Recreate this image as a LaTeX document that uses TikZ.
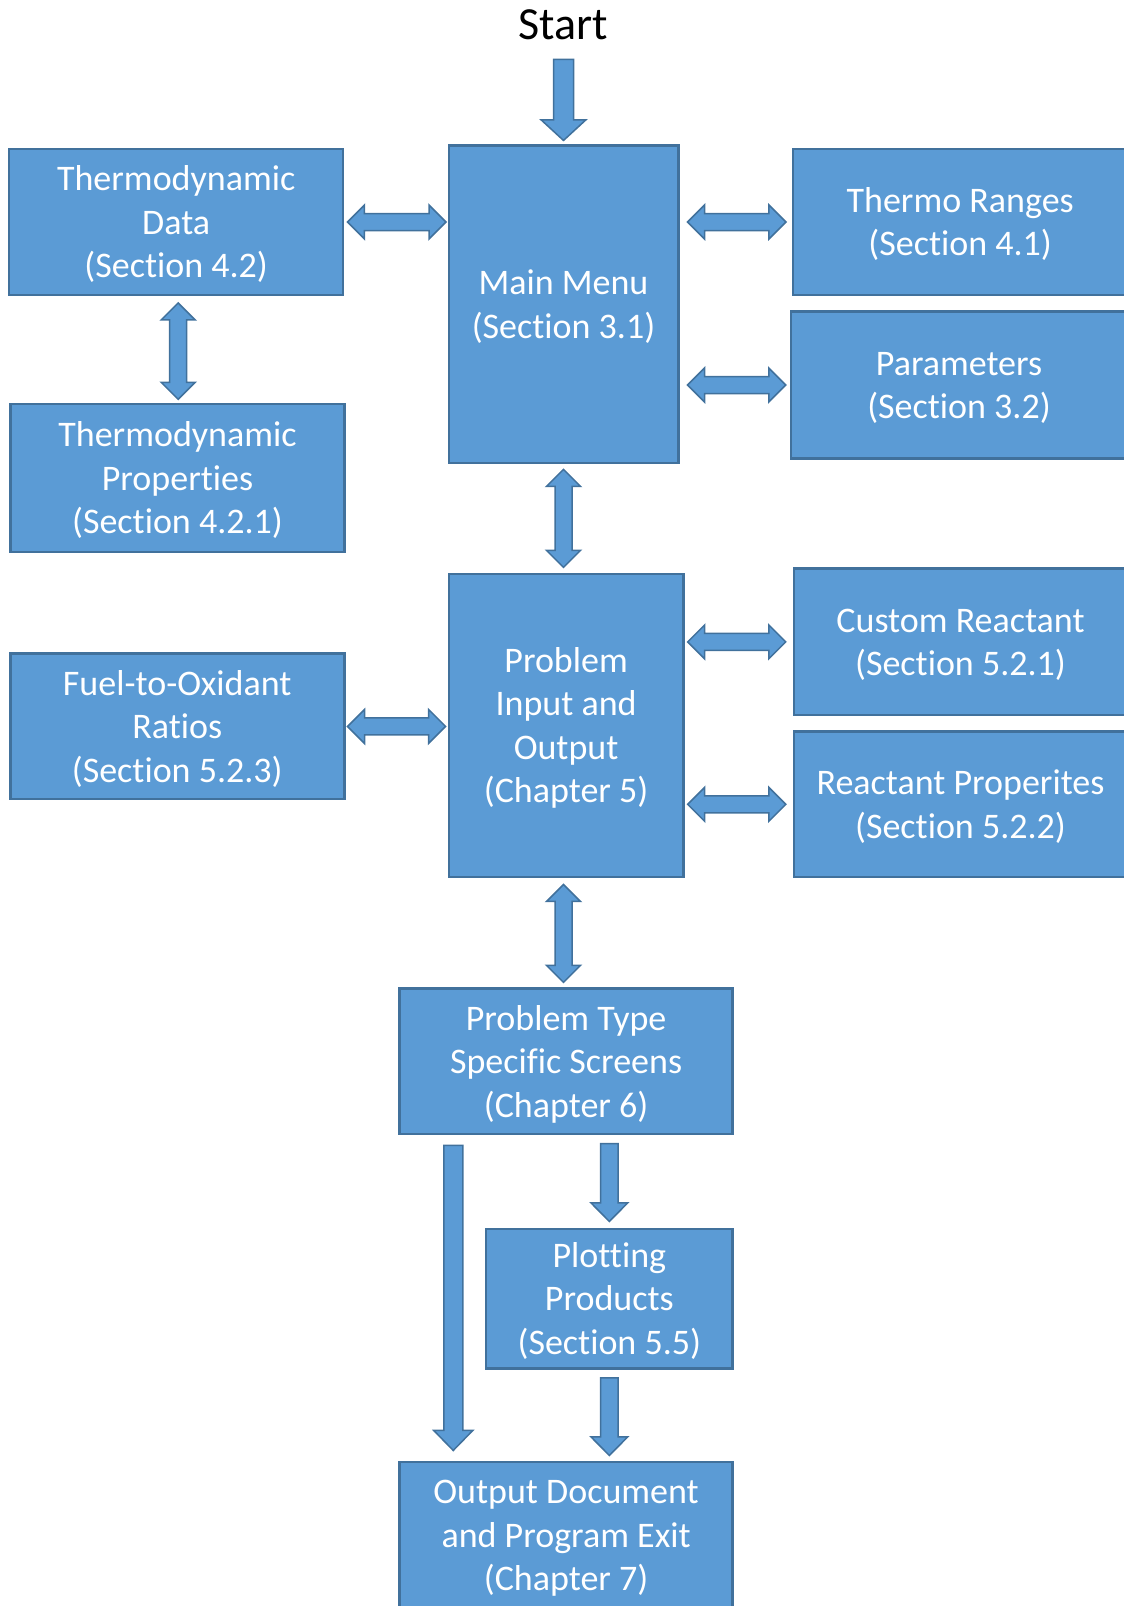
\documentclass[tikz,border=0pt]{standalone}
\usepackage{fontspec}
\setmainfont{Carlito}[RawFeature={-liga;-clig;-calt;-dlig}]
\usetikzlibrary{calc}
\definecolor{boxfill}{HTML}{5B9BD5}
\definecolor{boxline}{HTML}{41719C}
\def\dhl{17pt}\def\dhh{17pt}\def\dsh{8.5pt}
\newcommand\boxtext[1]{\raisebox{-3.5pt}[\height][\depth]{\begin{tabular}{@{}c@{}}#1\end{tabular}}}
\begin{document}
\begin{tikzpicture}[x=1pt,y=-1pt,
  box/.style={draw=boxline, fill=boxfill, line width=2.5pt, text=white,
    inner sep=0pt, font=\fontsize{36}{43.5}\selectfont},
  blockarrow/.style={draw=boxline, fill=boxfill, line width=1.5pt, line join=miter},
  hdbl/.style={blockarrow, to path={let \p1=(\tikztostart), \p2=(\tikztotarget) in
    (\x1,\y1) -- (\x1+\dhl,\y1+\dhh) -- (\x1+\dhl,\y1+\dsh) -- (\x2-\dhl,\y1+\dsh) -- (\x2-\dhl,\y1+\dhh)
    -- (\x2,\y1) -- (\x2-\dhl,\y1-\dhh) -- (\x2-\dhl,\y1-\dsh) -- (\x1+\dhl,\y1-\dsh) -- (\x1+\dhl,\y1-\dhh) -- cycle}},
  vdbl/.style={blockarrow, to path={let \p1=(\tikztostart), \p2=(\tikztotarget) in
    (\x1,\y1) -- (\x1+\dhh,\y1-\dhl) -- (\x1+\dsh,\y1-\dhl) -- (\x1+\dsh,\y2+\dhl) -- (\x1+\dhh,\y2+\dhl)
    -- (\x1,\y2) -- (\x1-\dhh,\y2+\dhl) -- (\x1-\dsh,\y2+\dhl) -- (\x1-\dsh,\y1-\dhl) -- (\x1-\dhh,\y1-\dhl) -- cycle}},
  vdown/.style n args={3}{blockarrow, to path={let \p1=(\tikztostart), \p2=(\tikztotarget) in
    (\x1-#1pt,\y1) -- (\x1+#1pt,\y1) -- (\x1+#1pt,\y2+#3pt) -- (\x1+#2pt,\y2+#3pt) -- (\x1,\y2)
    -- (\x1-#2pt,\y2+#3pt) -- (\x1-#1pt,\y2+#3pt) -- cycle}}
]
\useasboundingbox (0,0) rectangle (1124,1606);
\clip (0,0) rectangle (1124,1606);

\node[font=\fontsize{46}{50}\selectfont, text=black] (start) at (563.5,24.6) {Start};

\node[box, minimum width=334pt, minimum height=146pt] (td) at (176.2,222) {\boxtext{Thermodynamic\\Data\\(Section 4.2)}};
\node[box, minimum width=334pt, minimum height=148pt] (tp) at (177.5,477.9) {\boxtext{Thermodynamic\\Properties\\(Section 4.2.1)}};
\node[box, minimum width=229.5pt, minimum height=317.6pt] (mm) at (563.5,304.3) {\boxtext{Main Menu\\(Section 3.1)}};
\node[box, minimum width=334pt, minimum height=146pt] (tr) at (960.2,222) {\boxtext{Thermo Ranges\\(Section 4.1)}};
\node[box, minimum width=336pt, minimum height=146.6pt] (par) at (959,385) {\boxtext{Parameters\\(Section 3.2)}};
\node[box, minimum width=234.6pt, minimum height=303.2pt] (pio) at (566.1,725.4) {\boxtext{Problem\\Input and\\Output\\(Chapter 5)}};
\node[box, minimum width=333pt, minimum height=146.6pt] (cr) at (960.5,641.9) {\boxtext{Custom Reactant\\(Section 5.2.1)}};
\node[box, minimum width=333pt, minimum height=145.4pt] (rp) at (960.5,804.3) {\boxtext{Reactant Properites\\(Section 5.2.2)}};
\node[box, minimum width=334pt, minimum height=145.5pt] (fo) at (177.25,726.45) {\boxtext{Fuel-to-Oxidant\\Ratios\\(Section 5.2.3)}};
\node[box, minimum width=333pt, minimum height=145.5pt] (ptss) at (566.1,1061.45) {\boxtext{Problem Type\\Specific Screens\\(Chapter 6)}};
\node[box, minimum width=246.7pt, minimum height=139.3pt] (pp) at (609.35,1298.65) {\boxtext{Plotting\\Products\\(Section 5.5)}};
\node[box, minimum width=333pt, minimum height=146pt] (out) at (566.1,1535) {\boxtext{Output Document\\and Program Exit\\(Chapter 7)}};

% arrows
\draw[vdown={10}{22.5}{20.7}] ($(start.center)+(0,34.7)$) to ($(mm.north)+(0,-3.8)$);
\draw[hdbl] ($(td.east)+(3,0)$) to ($(mm.west |- td.east)+(-1.5,0)$);
\draw[hdbl] ($(mm.east |- tr.west)+(8,0)$) to ($(tr.west)+(-6,0)$);
\draw[hdbl] ($(mm.east |- par.west)+(8,0)$) to ($(par.west)+(-4,0)$);
\draw[vdbl] ($(td.south)+(2,6.7)$) to ($(tp.north)+(0,-3.3)$);
\draw[vdbl] ($(mm.south)+(0,5)$) to ($(pio.north)+(0,-5.2)$);
\draw[hdbl] ($(pio.east |- cr.west)+(3,0)$) to ($(cr.west)+(-7,0)$);
\draw[hdbl] ($(pio.east |- rp.west)+(3,0)$) to ($(rp.west)+(-7,0)$);
\draw[hdbl] ($(fo.east)+(2,0)$) to ($(pio.west |- fo.east)+(-2,0)$);
\draw[vdbl] ($(pio.south)+(-2.6,6.2)$) to ($(ptss.north)+(0,-5.1)$);
\draw[vdown={9.5}{19.5}{20}] ($(ptss.south west)+(54.9,9.8)$) to ($(out.north west)+(54.9,-10.3)$);
\draw[vdown={8.7}{18.5}{18.7}] ($(pp.north |- ptss.south)+(0,8.1)$) to ($(pp.north)+(0,-6.3)$);
\draw[vdown={8.7}{18.5}{18.7}] ($(pp.south)+(0,8.4)$) to ($(pp.south |- out.north)+(0,-5.3)$);
\end{tikzpicture}
\end{document}
